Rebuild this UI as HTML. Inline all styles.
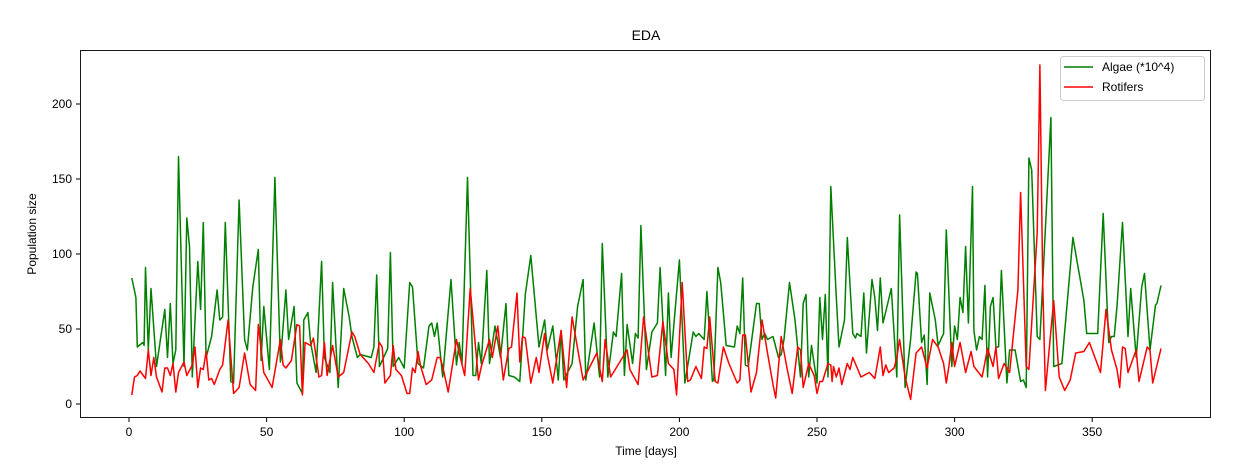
<!DOCTYPE html>
<html><head><meta charset="utf-8"><style>
html,body{margin:0;padding:0;background:#fff;}
svg{display:block;font-family:"Liberation Sans","DejaVu Sans",sans-serif;}
</style></head><body>
<svg id="chart" width="1236" height="471" viewBox="0 0 1236 471" xmlns="http://www.w3.org/2000/svg">
<rect x="0" y="0" width="1236" height="471" fill="#fff"/>
<text x="646" y="40" font-size="14" text-anchor="middle" fill="#000">EDA</text>
<g id="series"></g>
<rect x="80.5" y="50.5" width="1130" height="367" fill="none" stroke="#000" stroke-width="0.9"/>
<g id="axes"></g>
<text x="646" y="455" font-size="12" text-anchor="middle">Time [days]</text>
<text transform="translate(36,234) rotate(-90)" font-size="12" text-anchor="middle">Population size</text>
<g>
<rect x="1060.5" y="56.5" width="144" height="44" rx="3" fill="#fff" stroke="#ccc"/>
<line x1="1064" y1="67" x2="1093" y2="67" stroke="green" stroke-width="1.5"/>
<text x="1102" y="71" font-size="12">Algae (*10^4)</text>
<line x1="1064" y1="87" x2="1093" y2="87" stroke="red" stroke-width="1.5"/>
<text x="1102" y="91" font-size="12">Rotifers</text>
</g>
</svg>
<script>
const xTicks=[0,50,100,150,200,250,300,350];
const yTicks=[0,50,100,150,200];
const algaeDays=[1,2.5,3,5,5.5,6,7,8,10,13,14,15,16,17,18,20,21,22,23,25,26,27,28,30,32,33,34,35,37,38,40,42,43,45,47,48,49,51,53,55,57,58,60,61,63,63.5,65,66,68,70,71,73,74,76,78,80,81,83,84,88,89,90,91,94,95,96,98,100,102,103,105,107,109,110,111,112,114,117,119,120,121,123,125,126,127,128,130,131,133,135,137,138,140,142,144,146,149,151,152,154,156,157,158,161,163,165,166,169,171,172,174,176,177,179,180,181,183,184,185,186,188,190,192,193,195,196,197,200,202,205,206,207,209,210,212,212.5,214,215,217,220,221,222,223,224,225,228,229,230,231,232,234,236,237,238,240,242,244,245,246,247,248,250,251,252,253,254,255,257,258,260,261,263,264,264.5,266,267,268,270,271,272,273,274,277,279,280,282,284,286,286.5,288,289,290,291,293,294,296,297,299,300,301,302,303,304,305,306.5,307,308,309,310,311,312,313,314,315,316,317,319,320,322,324,325,326,327,328,330,331,335,336,339,343,347,348,352,354,356,357,358,359,361,363,364,366,368,369,371,373,373.5,375];
const algaeVals=[84,71,38,41,39,91,36,77,25,63,31,67,27,36,165,25,124,105,18,95,63,121,31,45,76,56,58,121,15,14,136,43,36,78,103,29,65,23,151,28,76,43,65,14,7,56,61,41,21,95,31,21,81,11,77,58,45,31,33,31,38,86,25,37,101,25,31,24,81,78,27,24,52,54,45,54,18,83,26,41,27,151,19,19,41,27,89,27,52,31,67,19,18,15,73,99,38,56,36,52,16,49,16,27,65,83,16,54,18,107,18,48,45,87,19,53,27,47,44,119,23,48,54,91,19,74,31,96,14,48,45,47,43,75,15,16,91,81,39,38,52,47,84,26,25,67,67,43,47,43,45,31,33,43,81,56,18,67,73,18,39,14,71,43,73,18,145,71,38,56,111,47,44,47,45,74,34,83,71,49,84,54,77,18,126,11,43,88,87,41,46,13,74,56,39,47,116,25,52,43,71,61,105,54,145,49,36,45,43,79,18,65,71,38,38,89,14,36,36,15,16,11,164,156,45,43,191,25,27,111,69,47,47,127,41,45,45,65,121,45,77,31,78,87,36,66,67,79];
const rotDays=[1,2,3,4,6,7,8,9,10,12,13,14,15,16,17,18,20,21,23,24,25,26,27,28,29,30,31,33,34,36,38,40,42,44,46,47,49,52,55,56,57,59,61,62,63,64,66,67,69,70,71,72,74,76,78,81,82,84,87,89,91,92,93,95,96,97,99,101,102,103,104,105,106,108,110,112,113,114,116,119,120,122,124,127,128,131,132,134,136,138,139,141,142,143,144,146,148,149,151,152,154,157,159,161,165,170,172,173,175,178,181,182,185,187,190,192,194,196,198,199,201,203,204,206,208,209,210,211,213,214,216,218,221,222,223,224,226,228,230,232,234,235,237,239,241,243,244,245,247,249,250,251,252,254,255,255.5,256,257,258,259,261,262,263,266,269,271,273,274,275,276,278,279,280,282,284,286,288,290,292,294,296,297,298,299,300,302,304,306,307,310,312,314,315,316,318,320,323,324,326,327,330,331,332,333,336,338,340,342,344,347,349,353,355,357,359,360,361,362,363,366,367,370,371,372,375];
const rotVals=[6,18,19,22,17,36,19,31,18,8,24,24,19,27,8,21,28,19,26,38,11,24,23,35,16,17,13,23,26,56,7,11,34,13,9,53,21,11,43,26,24,29,53,52,6,41,39,44,18,19,41,19,39,18,21,48,45,33,27,21,41,38,14,19,39,23,19,7,7,24,21,35,25,13,16,31,31,25,8,43,34,19,77,16,25,43,31,52,16,37,38,74,28,45,44,14,31,21,47,33,14,49,11,58,16,34,15,43,18,27,36,23,13,58,18,19,55,27,23,6,81,15,16,25,17,38,37,58,15,14,38,27,14,16,46,46,8,21,56,34,13,4,45,25,7,38,36,11,27,19,7,15,15,27,26,15,25,18,24,13,27,23,31,18,21,17,38,19,26,21,24,31,43,18,3,34,38,24,43,38,27,14,26,41,25,41,21,35,25,18,37,25,38,17,27,21,76,141,25,23,114,226,81,9,69,18,9,16,34,35,41,21,63,36,23,11,38,37,21,36,15,38,36,14,37];
const NS='http://www.w3.org/2000/svg';
const X0=129,XK=2.752,Y0=404,YK=1.5;
function xs(d){return X0+d*XK;}
function ys(v){return Y0-v*YK;}
const axes=document.getElementById('axes');
xTicks.forEach(t=>{
  const l=document.createElementNS(NS,'line');
  l.setAttribute('x1',xs(t));l.setAttribute('x2',xs(t));l.setAttribute('y1',418);l.setAttribute('y2',422);l.setAttribute('stroke','#000');
  
  
  axes.appendChild(l);
  const tx=document.createElementNS(NS,'text');
  tx.setAttribute('x',xs(t));tx.setAttribute('y',436);tx.setAttribute('font-size','12');tx.setAttribute('text-anchor','middle');tx.textContent=t;
  
  
  axes.appendChild(tx);
});
yTicks.forEach(t=>{
  const l=document.createElementNS(NS,'line');
  l.setAttribute('x1',76);l.setAttribute('x2',80);l.setAttribute('y1',ys(t));l.setAttribute('y2',ys(t));l.setAttribute('stroke','#000');
  
  
  axes.appendChild(l);
  const tx=document.createElementNS(NS,'text');
  tx.setAttribute('x',72);tx.setAttribute('y',ys(t)+4);tx.setAttribute('font-size','12');tx.setAttribute('text-anchor','end');tx.textContent=t;
  
  
  axes.appendChild(tx);
});
const g=document.getElementById('series');
function line(days,vals,color,name){
  const p=document.createElementNS(NS,'path');
  p.setAttribute('d',days.map((d,i)=>(i?'L':'M')+xs(d).toFixed(1)+','+ys(vals[i]).toFixed(1)).join(''));
  p.setAttribute('fill','none');p.setAttribute('stroke',color);p.setAttribute('stroke-width','1.5');p.setAttribute('stroke-linejoin','round');
  
  
  g.appendChild(p);
}
line(algaeDays,algaeVals,'green','algae-line');
line(rotDays,rotVals,'red','rotifers-line');
</script>
</body></html>
